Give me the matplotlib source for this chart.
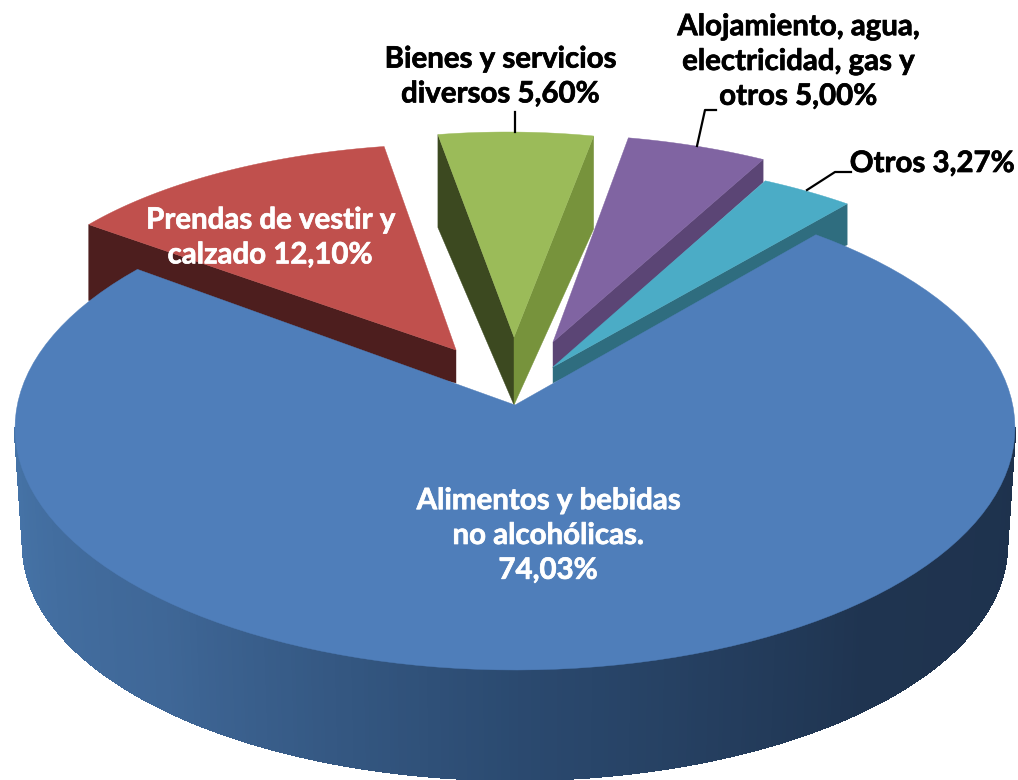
import numpy as np
import matplotlib
matplotlib.use("Agg")
import matplotlib.pyplot as plt
import matplotlib.patheffects as pe
from matplotlib.collections import PolyCollection
from matplotlib.colors import LinearSegmentedColormap

categories = ["Alimentos y bebidas\nno alcohólicas.\n74,03%",
              "Prendas de vestir y\ncalzado 12,10%",
              "Bienes y servicios\ndiversos 5,60%",
              "Alojamiento, agua,\nelectricidad, gas y\notros 5,00%",
              "Otros 3,27%"]
values = [74.03, 12.10, 5.60, 5.00, 3.27]

# start of the blue slice on the ellipse, degrees, going clockwise
START = 49.0

plt.rcParams['font.family'] = ['Lato', 'DejaVu Sans']

fig = plt.figure(figsize=(10.18, 7.8), dpi=100)
ax = fig.add_axes([0, 0, 1, 1])
ax.set_xlim(0, 1018)
ax.set_ylim(780, 0)
ax.axis('off')


def rim(s, t):
    t = np.radians(t)
    return s['cx'] + s['a'] * np.cos(t), s['cy'] - s['b'] * np.sin(t)


def wall(s, t, color, z):
    # side face between apex and rim corner
    x, y = rim(s, t)
    pts = [(s['ax'], s['ay']), (x, y), (x, y + s['drim']), (s['ax'], s['ay'] + s['dapex'])]
    ax.fill(*zip(*pts), color=color, lw=0.3, zorder=z)


def top(s, t0, t1, color, z):
    ts = np.linspace(t0, t1, 120)
    x, y = rim(s, ts)
    ax.fill(np.r_[s['ax'], x], np.r_[s['ay'], y], color=color, lw=0.3, zorder=z)


# cumulative angles from the values
spans = [v / sum(values) * 360 for v in values]
t_blue1 = START - spans[0]
t_red1 = t_blue1 - spans[1]
t_green1 = t_red1 - spans[2]
t_purple1 = t_green1 - spans[3]
t_teal1 = t_purple1 - spans[4]

red = dict(cx=456, cy=350, a=463, b=206, ax=456, ay=350, drim=76, dapex=33)
green = dict(cx=507, cy=342, a=445, b=210, ax=514, ay=337, drim=93, dapex=68)
purple = dict(cx=539, cy=334, a=459, b=200, ax=553, ay=342, drim=23, dapex=26)
teal = dict(cx=527, cy=351, a=488, b=195, ax=553, ay=367, drim=41, dapex=16)
# the big slice is stretched a bit by the perspective of the 3d view
blue = dict(cx=515, cy=428, a=500, b=242, ax=515, ay=405)
BLUE_STRETCH = 1.028

# red
wall(red, t_blue1 - 360, '#4D1E1E', 1)
top(red, t_blue1, t_red1, '#C0504D', 2)
# green
wall(green, t_red1, '#3C4920', 3)
wall(green, t_green1, '#77933C', 3)
top(green, t_red1, t_green1, '#9BBB59', 4)
# purple
wall(purple, t_purple1, '#5B4575', 5)
top(purple, t_green1, t_purple1, '#8064A2', 6)
# teal
wall(teal, t_teal1, '#2F6D7F', 7)
top(teal, t_purple1, t_teal1, '#4BACC6', 8)

# blue wall, gradient from left to right
cmap = LinearSegmentedColormap.from_list('w', ['#4674A8', '#3F6797', '#2B4A70', '#1F3450', '#1E324D'])
ts = np.linspace(180, 360, 361)
tr = np.radians(ts)
xt = blue['cx'] + blue['a'] * np.cos(tr)
yt = blue['cy'] - blue['b'] * np.sin(tr)
xb = 515 + 492 * np.cos(tr)
yb = 545 - 235 * np.sin(tr)
quads = [[(xt[i], yt[i]), (xt[i + 1], yt[i + 1]), (xb[i + 1], yb[i + 1]), (xb[i], yb[i])]
         for i in range(len(ts) - 1)]
cols = [cmap(i / (len(ts) - 2)) for i in range(len(ts) - 1)]
ax.add_collection(PolyCollection(quads, facecolors=cols, edgecolors=cols, linewidths=1.0,
                                 antialiaseds=False, zorder=9))

blue_t0 = 53.0
top(blue, blue_t0, blue_t0 - spans[0] * BLUE_STRETCH, '#4F7EBA', 10)

# leader lines
ax.plot([515, 515], [112, 132], color='k', lw=1.6, zorder=11)
ax.plot([716, 705, 697], [110, 110, 146], color='k', lw=1.6, zorder=11)
ax.plot([851, 835, 807], [172, 172, 190], color='k', lw=1.6, zorder=11)

# labels
txt = dict(ha='center', va='center', fontsize=21.2, fontweight='bold', linespacing=1.42, zorder=12)
for cat, x, y, col in zip(categories,
                          [548, 270, 500, 798, 932],
                          [536, 238, 77, 62, 164],
                          ['white', 'white', 'black', 'black', 'black']):
    t = ax.text(x, y, cat, color=col, **txt)
    t.set_path_effects([pe.withStroke(linewidth=0.5, foreground=col)])

fig.savefig("out.png", dpi=100)
